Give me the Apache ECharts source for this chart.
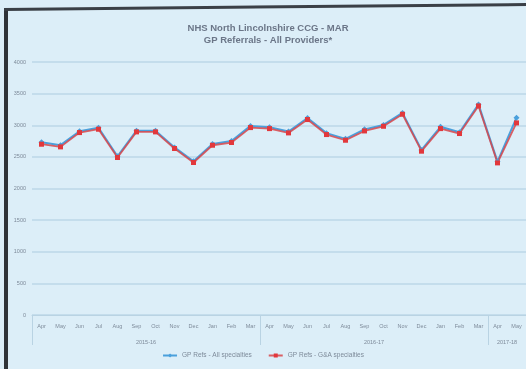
<!DOCTYPE html>
<html>
<head>
<meta charset="utf-8">
<script src="https://cdn.jsdelivr.net/npm/echarts@6/dist/echarts.min.js"></script>
<style>
  html, body { margin: 0; padding: 0; background: #dceef8; overflow: hidden; }
  #leftEdge { position: absolute; left: 4px; top: 8px; width: 4px; height: 400px; background: #2f3338; }
  #topEdge {
    position: absolute; left: 4px; top: 8px; width: 560px; height: 3px; background: #3a3f46;
    transform: rotate(-0.55deg); transform-origin: 0 0;
  }
  #chart { position: absolute; left: 0; top: 0; width: 526px; height: 369px; }
</style>
</head>
<body>
<div id="leftEdge"></div>
<div id="topEdge"></div>
<div id="chart"></div>
<script>
// months Apr 2015 .. May 2017
var months = ['Apr', 'May', 'Jun', 'Jul', 'Aug', 'Sep', 'Oct', 'Nov', 'Dec', 'Jan', 'Feb', 'Mar',
              'Apr', 'May', 'Jun', 'Jul', 'Aug', 'Sep', 'Oct', 'Nov', 'Dec', 'Jan', 'Feb', 'Mar',
              'Apr', 'May'];
var years = ['2015-16', '2016-17', '2017-18'];
var yearStart = [0, 12, 24, 26];
var yearMid = [6, 18, 25];

var allSpec = [2730, 2685, 2905, 2960, 2510, 2915, 2915, 2650, 2430, 2705, 2750, 2990,
               2970, 2900, 3115, 2875, 2785, 2935, 3005, 3195, 2610, 2975, 2890, 3330,
               2425, 3120];
var gaSpec = [2700, 2658, 2884, 2937, 2490, 2895, 2895, 2632, 2411, 2684, 2727, 2963,
              2947, 2879, 3090, 2853, 2763, 2910, 2984, 3174, 2590, 2947, 2869, 3305,
              2405, 3037];

var yTicks = [0, 500, 1000, 1500, 2000, 2500, 3000, 3500, 4000];

var chart = echarts.init(document.getElementById('chart'));
var txt = '#7d8a99';
var option = {
  backgroundColor: 'transparent',
  title: {
    text: 'NHS North Lincolnshire CCG - MAR\nGP Referrals - All Providers*',
    left: 263, textAlign: 'center', top: 17,
    textStyle: { fontSize: 9.5, fontWeight: 'bold', color: '#6b7688', lineHeight: 12, fontFamily: 'Liberation Sans' }
  },
  legend: {
    bottom: 5, left: 'center', itemGap: 16, itemWidth: 14, itemHeight: 5,
    textStyle: { fontSize: 6.5, color: txt, fontFamily: 'Liberation Sans' },
    data: ['GP Refs - All specialties', 'GP Refs - G&A specialties']
  },
  grid: { left: 32, right: 0, top: 62, bottom: 54 },
  xAxis: [
    {
      type: 'category', data: months, boundaryGap: true,
      axisLine: { lineStyle: { color: '#b9d3e3' } },
      axisTick: { show: false },
      axisLabel: { fontSize: 5.5, color: txt, margin: 8, interval: 0, fontFamily: 'Liberation Sans' }
    },
    {
      type: 'value', position: 'bottom', min: 0, max: months.length,
      axisLine: { show: false },
      splitLine: { show: false },
      axisTick: { show: true, customValues: yearStart, length: 30, lineStyle: { color: '#b9d3e3' } },
      axisLabel: {
        customValues: yearMid, fontSize: 5.5, color: txt, margin: 24, fontFamily: 'Liberation Sans',
        formatter: function (v) { return years[yearMid.indexOf(v)]; }
      }
    }
  ],
  yAxis: {
    type: 'value', min: 0, max: 4000, interval: 500,
    axisLine: { show: false }, axisTick: { show: false },
    axisLabel: { fontSize: 5.5, color: txt, margin: 6, fontFamily: 'Liberation Sans',
      formatter: function (v) { return yTicks.indexOf(v) >= 0 ? String(v) : ''; } },
    splitLine: { lineStyle: { color: '#bdd7e8', width: 1.5 } }
  },
  series: [
    {
      name: 'GP Refs - All specialties', type: 'line', data: allSpec,
      symbol: 'diamond', symbolSize: 6,
      lineStyle: { color: '#4aa0dc', width: 2 }, itemStyle: { color: '#4aa0dc' }
    },
    {
      name: 'GP Refs - G&A specialties', type: 'line', data: gaSpec,
      symbol: 'rect', symbolSize: 5,
      lineStyle: { color: '#d8454a', width: 1.8, opacity: 0.85 }, itemStyle: { color: '#e2383c' }
    }
  ]
};
chart.setOption(option);
</script>
</body>
</html>
